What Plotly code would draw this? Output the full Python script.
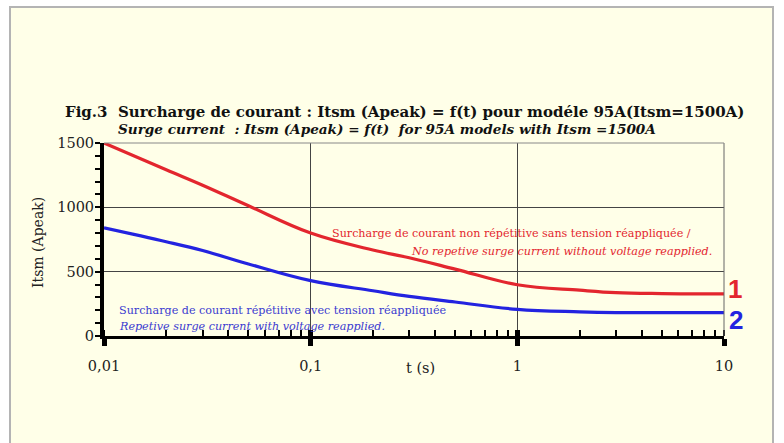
import plotly.graph_objects as go

# ---- data ----
t = [0.01, 0.02, 0.03, 0.05, 0.1, 0.2, 0.3, 0.5, 1, 2, 3, 5, 10]
itsm_non_rep = [1500, 1292, 1172, 1012, 800, 668, 608, 520, 398, 356, 337, 330, 328]
itsm_rep = [841, 733, 664, 560, 430, 352, 308, 264, 207, 188, 182, 181, 181]
x_tickvals = [0.01, 0.1, 1, 10]
x_ticktext = ["0,01", "0,1", "1", "10"]
y_tickvals = [0, 500, 1000, 1500]
y_ticktext = ["0", "500", "1000", "1500"]

RED = "#E3262E"
BLUE = "#2323E0"
SERIF = "DejaVu Serif"

L, R, T, B = 104, 60, 143, 107
PW, PH = 784 - L - R, 443 - T - B


def px(xp):
    return (xp - L) / PW


def py(yp):
    return (443 - B - yp) / PH


fig = go.Figure()
fig.add_trace(go.Scatter(x=t, y=itsm_non_rep, mode="lines", line=dict(color=RED, width=3.2, shape="spline", smoothing=1.1),
                         cliponaxis=False, showlegend=False))
fig.add_trace(go.Scatter(x=t, y=itsm_rep, mode="lines", line=dict(color=BLUE, width=3.2, shape="spline", smoothing=1.1),
                         cliponaxis=False, showlegend=False))
# invisible trace on the overlay axis (for the inner half of major x ticks)
fig.add_trace(go.Scatter(x=[t[0]], y=[0], xaxis="x2", mode="markers", marker=dict(opacity=0),
                         showlegend=False, hoverinfo="skip"))

fig.update_layout(
    width=784, height=443,
    margin=dict(l=L, r=R, t=T, b=B),
    paper_bgcolor="white",
    plot_bgcolor="rgba(0,0,0,0)",
    font=dict(family=SERIF, color="#222"),
    xaxis=dict(
        type="log", range=[-2, 1],
        tickvals=x_tickvals, ticktext=x_ticktext,
        ticks="outside", ticklen=7, tickwidth=5, tickcolor="black",
        tickfont=dict(family=SERIF, size=14.5, color="#222"),
        ticklabelstandoff=8,
        showline=True, linecolor="black", linewidth=3,
        showgrid=True, gridcolor="#444", gridwidth=1,
        zeroline=False,
        minor=dict(ticks="inside", ticklen=6, tickwidth=2, tickcolor="black",
                   dtick="D1", showgrid=False),
    ),
    xaxis2=dict(
        type="log", range=[-2, 1], overlaying="x", anchor="y", side="bottom",
        tickvals=x_tickvals, showticklabels=False,
        ticks="inside", ticklen=6, tickwidth=5, tickcolor="black",
        showline=False, showgrid=False, zeroline=False,
    ),
    yaxis=dict(
        range=[0, 1500],
        tickvals=y_tickvals, ticktext=y_ticktext,
        ticks="outside", ticklen=3, tickwidth=2, tickcolor="black",
        tickfont=dict(family=SERIF, size=14.5, color="#222"),
        showline=True, linecolor="black", linewidth=4,
        showgrid=True, gridcolor="#444", gridwidth=1,
        zeroline=False,
        minor=dict(ticks="outside", ticklen=5, tickwidth=2, tickcolor="black",
                   dtick=100, showgrid=False),
    ),
    shapes=[
        dict(type="rect", xref="paper", yref="paper",
             x0=px(10), x1=px(773), y0=py(460), y1=py(7),
             fillcolor="#FFFFE8", line=dict(color="#B4B4B4", width=2), layer="below"),
        dict(type="line", xref="paper", yref="paper",
             x0=1, x1=1, y0=0, y1=1, line=dict(color="#666", width=1)),
        dict(type="line", xref="paper", yref="paper",
             x0=0, x1=1, y0=1, y1=1, line=dict(color="#888", width=1)),
    ],
)

ann = []
ann.append(dict(text="<b>Fig.3\u00a0\u00a0Surcharge de courant : Itsm (Apeak) = f(t) pour modéle 95A(Itsm=1500A)</b>",
                x=px(63), y=py(112), xanchor="left", yanchor="middle",
                font=dict(family=SERIF, size=15, color="#111")))
ann.append(dict(text="<b><i>Surge current\u00a0\u00a0: Itsm (Apeak) = f(t)\u00a0\u00a0for 95A models with Itsm =1500A</i></b>",
                x=px(116), y=py(129), xanchor="left", yanchor="middle",
                font=dict(family=SERIF, size=13.6, color="#111")))
ann.append(dict(text="Surcharge de courant non répétitive sans tension réappliquée /",
                x=px(330), y=py(233), xanchor="left", yanchor="middle",
                font=dict(family=SERIF, size=11.15, color=RED)))
ann.append(dict(text="<i>No repetive surge current without voltage reapplied.</i>",
                x=px(714), y=py(251), xanchor="right", yanchor="middle",
                font=dict(family=SERIF, size=11.15, color=RED)))
ann.append(dict(text="Surcharge de courant répétitive avec tension réappliquée",
                x=px(117), y=py(310), xanchor="left", yanchor="middle",
                font=dict(family=SERIF, size=11.15, color="#3A3AD0")))
ann.append(dict(text="<i>Repetive surge current with voltage reapplied.</i>",
                x=px(117), y=py(326), xanchor="left", yanchor="middle",
                font=dict(family=SERIF, size=11.15, color="#3A3AD0")))
ann.append(dict(text="<b>1</b>", x=px(735), y=py(289), xanchor="center", yanchor="middle",
                font=dict(family="Liberation Sans", size=26, color=RED)))
ann.append(dict(text="<b>2</b>", x=px(736), y=py(320), xanchor="center", yanchor="middle",
                font=dict(family="Liberation Sans", size=26, color=BLUE)))
ann.append(dict(text="Itsm (Apeak)", x=px(38), y=py(243), textangle=-90,
                xanchor="center", yanchor="middle",
                font=dict(family=SERIF, size=14, color="#222")))
ann.append(dict(text="t (s)", x=px(420), y=py(368), xanchor="center", yanchor="middle",
                font=dict(family=SERIF, size=14.5, color="#222")))
for a in ann:
    a.update(xref="paper", yref="paper", showarrow=False)
fig.update_layout(annotations=ann)

fig.write_html("out.html", config={"displayModeBar": False},
               post_script="document.body.style.margin='0';")
